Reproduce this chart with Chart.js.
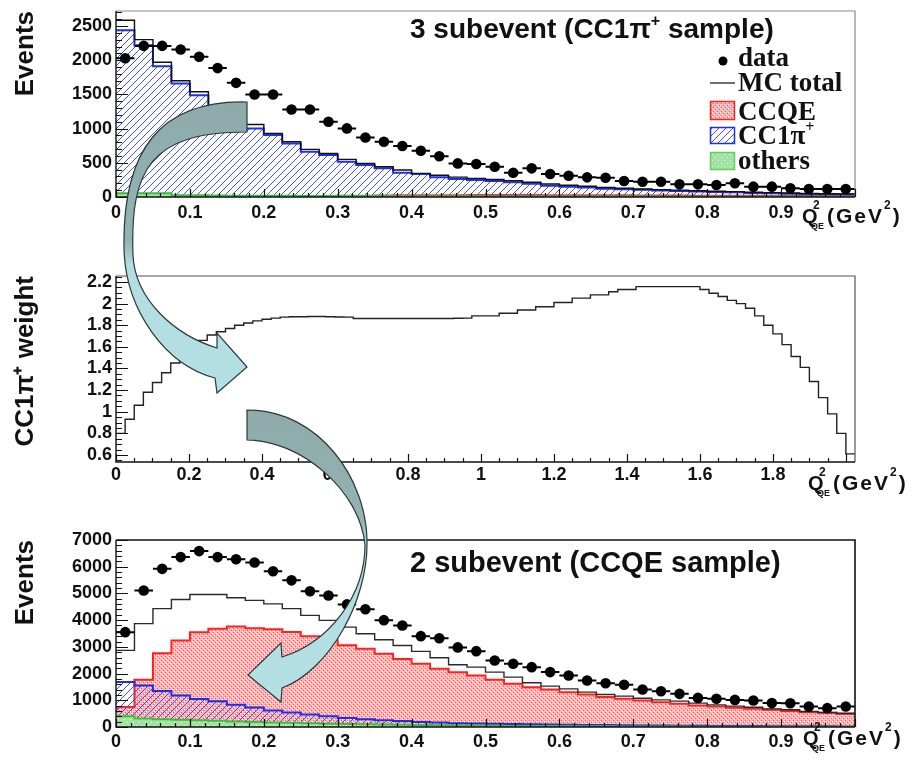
<!DOCTYPE html>
<html>
<head>
<meta charset="utf-8">
<script src="https://cdn.jsdelivr.net/npm/chart.js@4.4.1/dist/chart.umd.min.js"></script>
<style>
    html, body { margin: 0; padding: 0; background: #fff; }
    #wrap { position: relative; width: 914px; height: 760px; overflow: hidden; }
    #wrap canvas { position: absolute; left: 0; }
    #arrows { position: absolute; left: 0; top: 0; pointer-events: none; }
</style>
</head>
<body>
<div id="wrap">
    <canvas id="cc1piChart" width="914" height="250" style="top:0"></canvas>
    <canvas id="weightChart" width="914" height="255" style="top:250px"></canvas>
    <canvas id="ccqeChart" width="914" height="255" style="top:505px"></canvas>
    <svg id="arrows" width="914" height="760" viewBox="0 0 914 760">
        <defs>
            <linearGradient id="arrowUp" gradientUnits="userSpaceOnUse" x1="0" y1="100" x2="0" y2="395">
                <stop offset="0" stop-color="#8eabaa"/>
                <stop offset="0.48" stop-color="#93b2b2"/>
                <stop offset="0.56" stop-color="#b2dde1"/>
                <stop offset="1" stop-color="#b4dfe3"/>
            </linearGradient>
            <linearGradient id="arrowDown" gradientUnits="userSpaceOnUse" x1="0" y1="408" x2="0" y2="705">
                <stop offset="0" stop-color="#8eabaa"/>
                <stop offset="0.38" stop-color="#93b2b2"/>
                <stop offset="0.46" stop-color="#b2dde1"/>
                <stop offset="1" stop-color="#b4dfe3"/>
            </linearGradient>
        </defs>
        <path d="M247,102 C160,100 122,150 124,250 C126,310 165,365 215,378 L217,393 L247,367 L217,333 L217,348 C175,335 135,300 133,255 C130,170 150,132 247,132 Z"
              fill="url(#arrowUp)" stroke="#2a3838" stroke-width="1.2"/>
        <path d="M247,410 C320,410 367,480 367,542 C368,600 330,670 282,688 L281,702 L248,675 L281,643 L282,657 C330,642 365,595 365,545 C360,490 300,440 247,440 Z"
              fill="url(#arrowDown)" stroke="#2a3838" stroke-width="1.2"/>
    </svg>
</div>
<script>
// bins of Q2_QE (GeV^2)
const binW = 0.025;
const q2Edges = Array.from({ length: 41 }, (_, i) => +(i * binW).toFixed(3));
const weightEdges = Array.from({ length: 82 }, (_, i) => +(i * binW).toFixed(3));

// tick labels
const q2Ticks = [0, 0.1, 0.2, 0.3, 0.4, 0.5, 0.6, 0.7, 0.8, 0.9];
const q2WideTicks = [0, 0.2, 0.4, 0.6, 0.8, 1, 1.2, 1.4, 1.6, 1.8];
const events3Ticks = [0, 500, 1000, 1500, 2000, 2500];
const events2Ticks = [0, 1000, 2000, 3000, 4000, 5000, 6000, 7000];
const weightTicks = [0.6, 0.8, 1, 1.2, 1.4, 1.6, 1.8, 2, 2.2];

// 3 subevent (CC1pi+ sample)
const cc1piData = [2030, 2210, 2210, 2156, 2050, 1885, 1669, 1500, 1500, 1280,
    1280, 1100, 1003, 871, 808, 745, 676, 595, 491, 482,
    443, 355, 419, 336, 311, 287, 282, 234, 224, 224,
    185, 185, 175, 200, 151, 151, 127, 117, 117, 117];
const cc1piMcTotal = [2584, 2302, 1970, 1700, 1540, 1300, 1170, 1060, 930, 808,
    696, 637, 550, 491, 443, 394, 345, 318, 290, 272,
    255, 238, 215, 190, 172, 158, 140, 128, 118, 108,
    100, 92, 84, 78, 70, 64, 58, 52, 48, 44];
const cc1piMcCc1pi = [2438, 2220, 1912, 1660, 1489, 1250, 1110, 1002, 905, 783,
    661, 613, 516, 467, 419, 355, 336, 290, 265, 248,
    235, 215, 195, 165, 150, 140, 120, 112, 105, 95,
    88, 80, 72, 68, 60, 54, 48, 42, 39, 36];
const cc1piMcCcqe = [5, 10, 12, 14, 15, 15, 15, 15, 15, 15,
    15, 15, 18, 20, 22, 24, 25, 26, 27, 28,
    28, 28, 28, 27, 27, 26, 25, 24, 23, 22,
    21, 20, 19, 18, 17, 16, 15, 14, 13, 12];
const cc1piMcOther = [55, 55, 55, 25, 25, 22, 20, 20, 18, 18,
    16, 16, 15, 14, 13, 12, 12, 11, 10, 10,
    9, 9, 8, 8, 7, 7, 6, 6, 6, 5,
    5, 5, 4, 4, 4, 4, 3, 3, 3, 3];

// CC1pi+ weight vs Q2_QE
const cc1piWeight = [0.8, 0.93, 1.06, 1.18, 1.27, 1.36, 1.45, 1.52, 1.6, 1.66,
    1.71, 1.74, 1.77, 1.8, 1.82, 1.84, 1.855, 1.865, 1.875, 1.878,
    1.878, 1.88, 1.88, 1.878, 1.876, 1.875, 1.862, 1.862, 1.862, 1.862,
    1.862, 1.862, 1.862, 1.862, 1.862, 1.862, 1.862, 1.864, 1.865, 1.886,
    1.886, 1.886, 1.91, 1.91, 1.94, 1.94, 1.97, 1.97, 2.01, 2.01,
    2.05, 2.05, 2.08, 2.08, 2.11, 2.13, 2.13, 2.157, 2.157, 2.157,
    2.157, 2.157, 2.157, 2.157, 2.13, 2.095, 2.065, 2.03, 2.0, 1.957,
    1.886, 1.8, 1.72, 1.62, 1.51, 1.41, 1.28, 1.13, 0.98, 0.8,
    0.61];

// 2 subevent (CCQE sample)
const ccqeData = [3550, 5110, 5920, 6360, 6585, 6360, 6280, 6160, 5830, 5490,
    5080, 4925, 4590, 4410, 4000, 3800, 3400, 3320, 2980, 2840,
    2490, 2370, 2240, 2055, 1930, 1740, 1640, 1580, 1405, 1340,
    1240, 1090, 1055, 1015, 990, 895, 890, 770, 705, 770];
const ccqeMcTotal = [2870, 3870, 4430, 4775, 4960, 4960, 4840, 4740, 4610, 4430,
    4180, 3990, 3740, 3490, 3265, 3050, 2830, 2590, 2330, 2240,
    2054, 1866, 1654, 1529, 1429, 1304, 1217, 1154, 1079, 1017,
    967, 893, 830, 780, 742, 680, 644, 581, 543, 494];
const ccqeMcCcqe = [750, 1770, 2760, 3240, 3550, 3680, 3760, 3700, 3660, 3560,
    3400, 3250, 3060, 2930, 2740, 2550, 2370, 2180, 2050, 1930,
    1770, 1620, 1490, 1400, 1300, 1220, 1120, 1055, 990, 930,
    870, 805, 770, 720, 680, 645, 595, 555, 530, 515];
const ccqeMcCc1pi = [1680, 1550, 1350, 1180, 1050, 960, 830, 730, 620, 540,
    470, 400, 340, 290, 250, 220, 190, 165, 145, 130,
    118, 108, 100, 92, 85, 78, 72, 66, 60, 55,
    50, 46, 42, 38, 35, 32, 29, 26, 24, 22];
const ccqeMcOther = [400, 320, 290, 270, 250, 230, 210, 190, 170, 155,
    140, 125, 112, 100, 90, 80, 72, 65, 58, 52,
    47, 42, 38, 34, 31, 28, 25, 22, 20, 18,
    16, 14, 13, 12, 11, 10, 9, 8, 7, 6];

const SANS = '"Liberation Sans", Arial, sans-serif';
const SERIF = '"Liberation Serif", "Times New Roman", serif';
const tickFont = { family: SANS, size: 18, weight: 'bold' };

Chart.defaults.font.family = SANS;
Chart.defaults.color = '#111';

function makeTile(size, paint) {
    const c = document.createElement('canvas');
    c.width = size;
    c.height = size;
    const g = c.getContext('2d');
    paint(g, size);
    return g.createPattern(c, 'repeat');
}

// "/" hatching, drawn pixel by pixel so it stays crisp and blue
const hatchBlue = makeTile(7, (g, s) => {
    g.fillStyle = '#3f50f2';
    for (let i = 0; i < s; i++) g.fillRect(i, s - 1 - i, 1, 1);
});
const dotsRed = makeTile(4, (g, s) => {
    g.fillStyle = '#fdb4b4';
    g.fillRect(0, 0, s, s);
    g.fillStyle = '#ffffff';
    g.fillRect(0, 0, 1, 1);
    g.fillRect(2, 2, 1, 1);
    g.fillStyle = '#ff5252';
    g.fillRect(1, 3, 1, 1);
    g.fillRect(3, 1, 1, 1);
});
const dotsGreen = makeTile(6, (g, s) => {
    g.fillStyle = '#a3e2a3';
    g.fillRect(0, 0, s, s);
    g.fillStyle = '#e6f8e6';
    g.fillRect(1, 1, 1, 1);
    g.fillRect(4, 4, 1, 1);
});

function histSteps(edges, vals) {
    return edges.map((e, i) => ({ x: e, y: vals[Math.min(i, vals.length - 1)] }));
}

function binPoints(edges, vals) {
    return vals.map((v, i) => ({ x: edges[i] + binW / 2, y: v }));
}

function histSet(label, edges, vals, color, width, fill) {
    return {
        label: label,
        data: histSteps(edges, vals),
        showLine: true,
        stepped: true,
        pointRadius: 0,
        borderColor: color,
        borderWidth: width,
        backgroundColor: fill || 'transparent',
        fill: fill ? 'origin' : false
    };
}

function dataSet(edges, vals) {
    return {
        label: 'data',
        data: binPoints(edges, vals),
        showLine: false,
        pointRadius: 5.3,
        pointBorderWidth: 0,
        pointBackgroundColor: '#000',
        xErr: binW / 2
    };
}

function xAxis(max, ticks, pad, height) {
    return {
        type: 'linear',
        min: 0,
        max: max,
        afterBuildTicks: s => { s.ticks = ticks.map(v => ({ value: v })); },
        afterFit: s => { s.height = height; s.paddingLeft = 0; s.paddingRight = 0; },
        grid: { display: false, drawTicks: false },
        border: { display: false },
        ticks: { padding: pad, maxRotation: 0, autoSkip: false, font: tickFont, color: '#111', callback: v => String(v) }
    };
}

function yAxis(min, max, ticks, title) {
    return {
        type: 'linear',
        min: min,
        max: max,
        afterBuildTicks: s => { s.ticks = ticks.map(v => ({ value: v })); },
        afterFit: s => { s.width = 116; s.paddingTop = 0; s.paddingBottom = 0; },
        grid: { display: false, drawTicks: false },
        border: { display: false },
        ticks: { padding: 4, autoSkip: false, font: tickFont, color: '#111', callback: v => String(v) },
        title: {
            display: true,
            text: title,
            align: 'end',
            color: '#111',
            font: { family: SANS, size: 26, weight: 'bold' },
            padding: { top: 10, bottom: 0 }
        }
    };
}

// ROOT style frame with inward major / minor ticks
const rootFrame = {
    id: 'rootFrame',
    afterDatasetsDraw(chart, args, o) {
        const { ctx, chartArea: a } = chart;
        const xs = chart.scales.x;
        const ys = chart.scales.y;
        ctx.save();
        ctx.lineWidth = o.frameWidth || 1.2;
        ctx.strokeStyle = o.frameColor || '#777';
        ctx.beginPath();
        ctx.moveTo(a.left, a.top);
        ctx.lineTo(a.right, a.top);
        ctx.lineTo(a.right, a.bottom);
        ctx.stroke();

        ctx.strokeStyle = '#111';
        ctx.lineWidth = 1.4;
        ctx.beginPath();
        ctx.moveTo(a.left, a.top);
        ctx.lineTo(a.left, a.bottom);
        ctx.lineTo(a.right, a.bottom);
        ctx.stroke();

        const marks = (scale, step, cb) => {
            const n0 = Math.ceil(scale.min / step - 1e-6);
            const n1 = Math.floor(scale.max / step + 1e-6);
            for (let n = n0; n <= n1; n++) {
                cb(scale.getPixelForValue(n * step), n * step);
            }
        };
        const isMajor = (v, step) => Math.abs(v / step - Math.round(v / step)) < 1e-6;

        ctx.lineWidth = 1.2;
        ctx.beginPath();
        marks(ys, o.yMinor, (p, v) => {
            const len = isMajor(v, o.yMajor) ? 12 : 6;
            ctx.moveTo(a.left, Math.round(p) + 0.5);
            ctx.lineTo(a.left + len, Math.round(p) + 0.5);
        });
        marks(xs, o.xMinor, (p, v) => {
            const len = isMajor(v, o.xMajor) ? 8 : 4;
            ctx.moveTo(Math.round(p) + 0.5, a.bottom);
            ctx.lineTo(Math.round(p) + 0.5, a.bottom - len);
        });
        ctx.stroke();
        ctx.restore();
    }
};

// horizontal bin-width bars on the data points
const xErrorBars = {
    id: 'xErrorBars',
    afterDatasetDraw(chart, args) {
        const ds = chart.data.datasets[args.index];
        if (!ds.xErr) return;
        const { ctx } = chart;
        const xs = chart.scales.x;
        const ys = chart.scales.y;
        ctx.save();
        ctx.strokeStyle = '#000';
        ctx.lineWidth = 2;
        ctx.beginPath();
        ds.data.forEach(p => {
            const py = ys.getPixelForValue(p.y);
            ctx.moveTo(xs.getPixelForValue(p.x - ds.xErr), py);
            ctx.lineTo(xs.getPixelForValue(p.x + ds.xErr), py);
        });
        ctx.stroke();
        ctx.restore();
    }
};

function drawRuns(ctx, x, y, runs, spacing) {
    ctx.save();
    ctx.fillStyle = '#111';
    ctx.textBaseline = 'alphabetic';
    ctx.textAlign = 'left';
    if ('letterSpacing' in ctx) ctx.letterSpacing = (spacing || 0) + 'px';
    let cx = x;
    runs.forEach(r => {
        ctx.font = r.font;
        if (r.x != null) cx = r.x;
        ctx.fillText(r.t, cx, y + (r.dy || 0));
        cx += ctx.measureText(r.t).width;
    });
    ctx.restore();
}

function q2Label(x, y) {
    return [
        { x: x, y: y, runs: [{ t: 'Q', font: 'bold 20px ' + SANS }] },
        { x: x + 11, y: y - 14, runs: [{ t: '2', font: 'bold 12px ' + SANS }] },
        { x: x + 9, y: y + 6, runs: [{ t: 'QE', font: 'bold 9px ' + SANS }] },
        { x: x + 25, y: y, spacing: 2, runs: [
            { t: '(GeV', font: 'bold 21px ' + SANS },
            { t: '2', font: 'bold 12px ' + SANS, dy: -14 },
            { t: ')', font: 'bold 21px ' + SANS }
        ] }
    ];
}

const panelText = {
    id: 'panelText',
    afterDraw(chart, args, o) {
        const ctx = chart.ctx;
        (o.items || []).forEach(it => drawRuns(ctx, it.x, it.y, it.runs, it.spacing));
        if (!o.legend) return;
        const lg = o.legend;
        ctx.save();
        lg.rows.forEach(r => {
            if (r.kind === 'dot') {
                ctx.fillStyle = '#000';
                ctx.beginPath();
                ctx.arc(lg.x + 13, r.mid, 4.5, 0, Math.PI * 2);
                ctx.fill();
            } else if (r.kind === 'line') {
                ctx.strokeStyle = '#111';
                ctx.lineWidth = 1.2;
                ctx.beginPath();
                ctx.moveTo(lg.x, r.mid);
                ctx.lineTo(lg.x + 25, r.mid);
                ctx.stroke();
            } else {
                ctx.fillStyle = '#fff';
                ctx.fillRect(lg.x, r.top, 25, r.h);
                ctx.fillStyle = r.fill;
                ctx.fillRect(lg.x, r.top, 25, r.h);
                ctx.strokeStyle = r.stroke;
                ctx.lineWidth = 1.5;
                ctx.strokeRect(lg.x + 0.5, r.top + 0.5, 24, r.h - 1);
            }
            drawRuns(ctx, lg.x + 28, r.base, r.runs);
        });
        ctx.restore();
    }
};

const legendFont = 'bold 27px ' + SERIF;

function baseOptions(top, xScale, yScale, frame, text) {
    return {
        animation: false,
        responsive: false,
        layout: { autoPadding: false, padding: { top: top, right: 59, left: 0, bottom: 0 } },
        plugins: {
            legend: { display: false },
            tooltip: { enabled: false },
            rootFrame: frame,
            panelText: text
        },
        scales: { x: xScale, y: yScale }
    };
}

new Chart(document.getElementById('cc1piChart'), {
    type: 'scatter',
    data: {
        datasets: [
            dataSet(q2Edges, cc1piData),
            histSet('MC total', q2Edges, cc1piMcTotal, '#111', 1.4),
            histSet('others', q2Edges, cc1piMcOther, '#3cc03c', 2, dotsGreen),
            histSet('CC1π+', q2Edges, cc1piMcCc1pi, '#1f2fe8', 2, hatchBlue),
            histSet('CCQE', q2Edges, cc1piMcCcqe, '#ff3030', 2, dotsRed)
        ]
    },
    options: baseOptions(11,
        xAxis(1.0, q2Ticks, 5, 53),
        yAxis(0, 2720, events3Ticks, 'Events'),
        { yMajor: 500, yMinor: 100, xMajor: 0.1, xMinor: 0.02, frameColor: '#8a8a8a' },
        {
            items: [
                { x: 410, y: 38, runs: [
                    { t: '3 subevent (CC1π', font: 'bold 28px ' + SANS },
                    { t: '+', font: 'bold 16px ' + SANS, dy: -12 },
                    { t: ' sample)', font: 'bold 28px ' + SANS }
                ] }
            ].concat(q2Label(802, 223)),
            legend: {
                x: 710,
                rows: [
                    { kind: 'dot', mid: 61, base: 66, runs: [{ t: 'data', font: legendFont }] },
                    { kind: 'line', mid: 83, base: 91, runs: [{ t: 'MC total', font: legendFont }] },
                    { kind: 'box', top: 101, h: 19, fill: dotsRed, stroke: '#ff2020', base: 120,
                      runs: [{ t: 'CCQE', font: legendFont }] },
                    { kind: 'box', top: 127, h: 17, fill: hatchBlue, stroke: '#1f2fe8', base: 144,
                      runs: [{ t: 'CC1π', font: legendFont }, { t: '+', font: 'bold 16px ' + SERIF, dy: -12 }] },
                    { kind: 'box', top: 152, h: 18, fill: dotsGreen, stroke: '#5fd05f', base: 169,
                      runs: [{ t: 'others', font: legendFont }] }
                ]
            }
        }),
    plugins: [rootFrame, xErrorBars, panelText]
});

new Chart(document.getElementById('weightChart'), {
    type: 'scatter',
    data: {
        datasets: [
            histSet('CC1π+ weight', weightEdges, cc1piWeight, '#222', 1.4)
        ]
    },
    options: baseOptions(26,
        xAxis(2.025, q2WideTicks, 2, 43),
        yAxis(0.535, 2.255, weightTicks, 'CC1π⁺ weight'),
        { yMajor: 0.2, yMinor: 0.05, xMajor: 0.2, xMinor: 0.05, frameColor: '#555' },
        { items: q2Label(808, 240) }),
    plugins: [rootFrame, panelText]
});

new Chart(document.getElementById('ccqeChart'), {
    type: 'scatter',
    data: {
        datasets: [
            dataSet(q2Edges, ccqeData),
            histSet('MC total', q2Edges, ccqeMcTotal, '#2a2a2a', 1.4),
            histSet('others', q2Edges, ccqeMcOther, '#3cc03c', 2, dotsGreen),
            histSet('CC1π+', q2Edges, ccqeMcCc1pi, '#1f2fe8', 2, hatchBlue),
            histSet('CCQE', q2Edges, ccqeMcCcqe, '#ff2020', 2, dotsRed)
        ]
    },
    options: baseOptions(35,
        xAxis(1.0, q2Ticks, 4, 33),
        yAxis(0, 7000, events2Ticks, 'Events'),
        { yMajor: 1000, yMinor: 200, xMajor: 0.1, xMinor: 0.02, frameColor: '#111', frameWidth: 1.6 },
        {
            items: [
                { x: 410, y: 67, runs: [{ t: '2 subevent (CCQE sample)', font: 'bold 29px ' + SANS }] }
            ].concat(q2Label(803, 240))
        }),
    plugins: [rootFrame, xErrorBars, panelText]
});
</script>
</body>
</html>
